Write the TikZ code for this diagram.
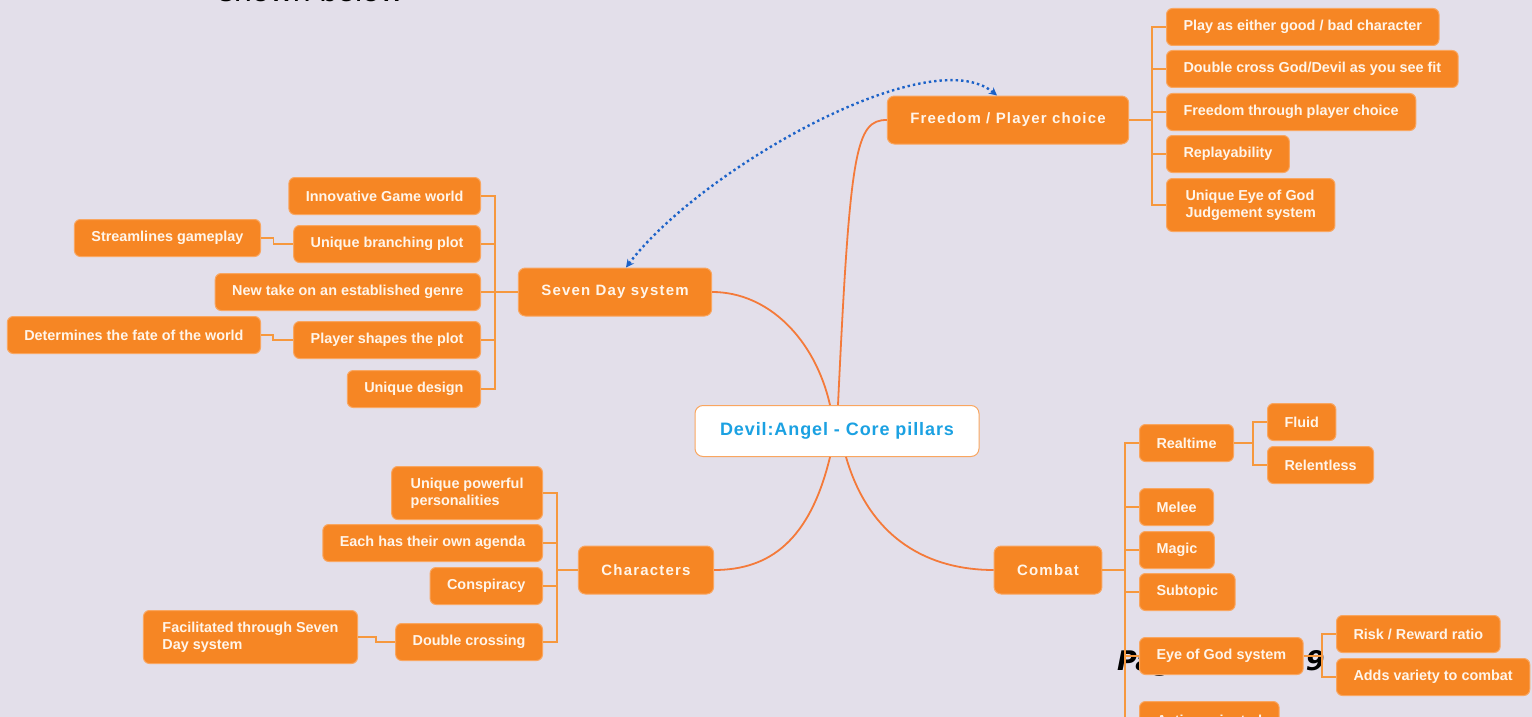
\documentclass[tikz,border=0pt]{standalone}
\usepackage{fontspec}
\setmainfont{Liberation Sans}
\newfontfamily\topicfont{Liberation Sans}[LetterSpace=8]
\newfontfamily\corefont{Liberation Sans}[LetterSpace=5]
\newfontfamily\footfont{DejaVu Sans}
\usetikzlibrary{arrows.meta}

\definecolor{bgpaper}{RGB}{227,223,234}
\definecolor{mmorange}{RGB}{246,134,36}
\definecolor{mmedge}{RGB}{249,166,96}
\definecolor{mmline}{RGB}{244,122,58}
\definecolor{mmbranch}{RGB}{246,152,62}
\definecolor{mmblue}{RGB}{27,161,226}
\definecolor{linkblue}{RGB}{28,98,200}
\definecolor{mmtext}{RGB}{255,245,234}

\tikzset{
  core/.style={rounded corners=8pt, fill=white, draw=mmedge, line width=1pt,
    text=mmblue, font=\corefont\bfseries\fontsize{18}{22}\selectfont,
    minimum height=51pt, minimum width=284pt},
  topic/.style={rounded corners=7pt, fill=mmorange, draw=mmedge, line width=1pt,
    text=mmtext, font=\topicfont\bfseries\fontsize{15}{18}\selectfont,
    minimum height=48pt, inner xsep=23pt},
  sub/.style={rounded corners=6pt, fill=mmorange, draw=mmedge, line width=1pt,
    text=mmtext, font=\bfseries\fontsize{14.4}{17}\selectfont, align=left,
    minimum height=37pt, inner xsep=17pt, inner ysep=3pt},
  twoline/.style={minimum height=53pt, inner xsep=19pt},
  trunk/.style={draw=mmline, line width=1.8pt},
  branch/.style={draw=mmbranch, line width=1.4pt},
  link/.style={draw=linkblue, line width=2.4pt, dash pattern=on 2.4pt off 3pt,
    {Stealth[length=8pt,width=8pt]}-{Stealth[length=8pt,width=8pt]}}
}

\begin{document}
\begin{tikzpicture}[x=1pt,y=-1pt]
\useasboundingbox (0,0) rectangle (1532,717);
\clip (0,0) rectangle (1532,717);
\fill[bgpaper] (0,0) rectangle (1532,717);

% text of the page around the map
\node[anchor=base west, inner sep=0pt, font=\fontsize{32}{38}\selectfont] (caption) at (218,1.5) {shown below};
\node[anchor=base west, inner sep=0pt, font=\footfont\bfseries\itshape\fontsize{27}{30}\selectfont] (pageno) at (1117,670) {Page 14 of 19};

% main topics
\node[core] (core) at (837,431) {Devil:Angel - Core pillars};
\node[topic] (freedom) at (1008,120) {Freedom / Player choice};
\node[topic] (sevenday) at (615,292) {Seven Day system};
\node[topic] (chars) at (646,570) {Characters};
\node[topic] (combat) at (1048,570) {Combat};

% freedom
\node[sub,anchor=west] (f1) at (1166,27) {Play as either good / bad character};
\node[sub,anchor=west] (f2) at (1166,69) {Double cross God/Devil as you see fit};
\node[sub,anchor=west] (f3) at (1166,112) {Freedom through player choice};
\node[sub,anchor=west] (f4) at (1166,154) {Replayability};
\node[sub,twoline,anchor=west] (f5) at (1166,205) {Unique Eye of God\\Judgement system};

% seven day system
\node[sub,anchor=east] (s1) at (481,196) {Innovative Game world};
\node[sub,anchor=east] (s2) at (481,244) {Unique branching plot};
\node[sub,anchor=east] (s3) at (481,292) {New take on an established genre};
\node[sub,anchor=east] (s4) at (481,340) {Player shapes the plot};
\node[sub,anchor=east] (s5) at (481,389) {Unique design};
\node[sub,anchor=east] (s21) at (261,238) {Streamlines gameplay};
\node[sub,anchor=east] (s41) at (261,335) {Determines the fate of the world};

% characters
\node[sub,twoline,anchor=east] (c1) at (543,493) {Unique powerful\\personalities};
\node[sub,anchor=east] (c2) at (543,543) {Each has their own agenda};
\node[sub,anchor=east] (c3) at (543,586) {Conspiracy};
\node[sub,anchor=east] (c4) at (543,642) {Double crossing};
\node[sub,twoline,anchor=east] (c41) at (358,637) {Facilitated through Seven\\Day system};

% combat
\node[sub,anchor=west] (k1) at (1139,443) {Realtime};
\node[sub,anchor=west] (k2) at (1139,507) {Melee};
\node[sub,anchor=west] (k3) at (1139,550) {Magic};
\node[sub,anchor=west] (k4) at (1139,592) {Subtopic};
\node[sub,anchor=west] (k5) at (1139,656) {Eye of God system};
\node[sub,anchor=west] (k6) at (1139,720) {Action oriented};
\node[sub,anchor=west] (k11) at (1267,422) {Fluid};
\node[sub,anchor=west] (k12) at (1267,465) {Relentless};
\node[sub,anchor=west] (k51) at (1336,634) {Risk / Reward ratio};
\node[sub,anchor=west] (k52) at (1336,677) {Adds variety to combat};

% branch points
\coordinate (fj) at (1152,120);
\coordinate (sj) at (495,292);
\coordinate (cj) at (557,570);
\coordinate (kj) at (1125,570);
\coordinate (rj) at (1253,443);
\coordinate (ej) at (1322,656);

% curves out of the centre
\draw[trunk] ([xshift=1pt]core.north) .. controls +(12,-256) and +(-31,0) .. (freedom.west);
\draw[trunk] ([xshift=-7pt]core.north) .. controls +(-15,-66) and +(56,0) .. (sevenday.east);
\draw[trunk] ([xshift=-7pt]core.south) .. controls +(-20,83) and +(56,0) .. (chars.east);
\draw[trunk] ([xshift=9pt]core.south) .. controls +(24,83) and +(-64,0) .. (combat.west);

% brackets
\draw[branch] (freedom.east) -- (fj);
\foreach \c in {f1,f2,f3,f4,f5} \draw[branch] (fj) |- (\c.west);
\draw[branch] (sevenday.west) -- (sj);
\foreach \c in {s1,s2,s3,s4,s5} \draw[branch] (sj) |- (\c.east);
\draw[branch] (s2.west) -- ++(-20,0) |- (s21.east);
\draw[branch] (s4.west) -- ++(-20,0) |- (s41.east);
\draw[branch] (chars.west) -- (cj);
\foreach \c in {c1,c2,c3,c4} \draw[branch] (cj) |- (\c.east);
\draw[branch] (c4.west) -- ++(-19,0) |- (c41.east);
\draw[branch] (combat.east) -- (kj);
\foreach \c in {k1,k2,k3,k4,k5,k6} \draw[branch] (kj) |- (\c.west);
\draw[branch] (k1.east) -- (rj);
\foreach \c in {k11,k12} \draw[branch] (rj) |- (\c.west);
\draw[branch] (k5.east) -- (ej);
\foreach \c in {k51,k52} \draw[branch] (ej) |- (\c.west);

% cross link
\draw[link] ([xshift=11pt]sevenday.north) .. controls +(74,-98) and +(-67,-56) .. ([xshift=-11pt]freedom.north);
\end{tikzpicture}
\end{document}
